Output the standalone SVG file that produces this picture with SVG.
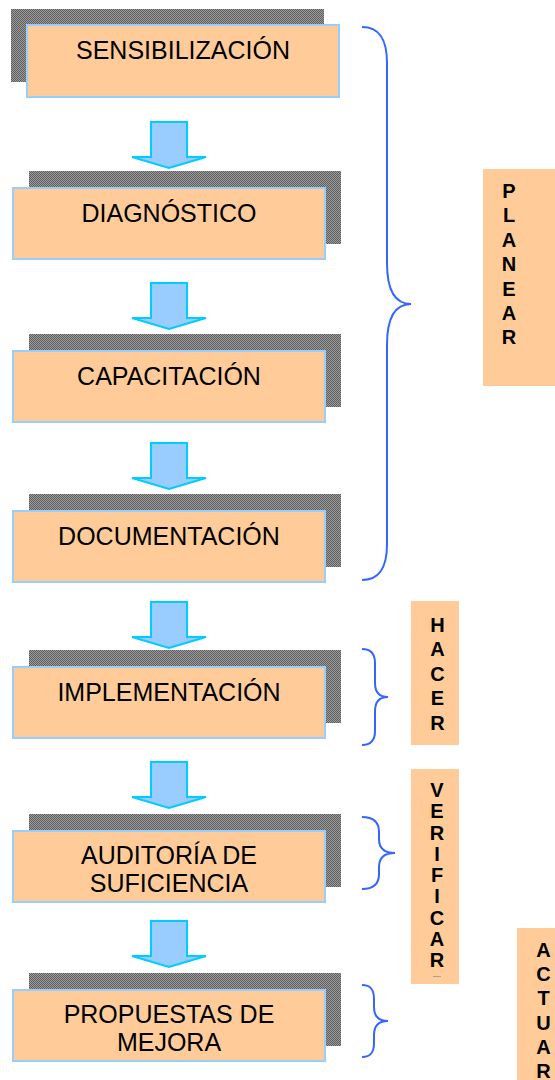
<svg xmlns="http://www.w3.org/2000/svg" width="555" height="1080" viewBox="0 0 555 1080">
<defs>
<pattern id="dither" width="2" height="2" patternUnits="userSpaceOnUse">
<rect width="2" height="2" fill="#9a9a9a"/>
<rect width="1" height="1" fill="#606060"/>
<rect x="1" y="1" width="1" height="1" fill="#606060"/>
</pattern>
</defs>
<style>
.shadow{fill:url(#dither)}
.box{fill:#ffcc99;stroke:#99ccff;stroke-width:2}
.t{font-family:"Liberation Sans",Arial,sans-serif;font-size:25px;fill:#000;text-anchor:middle}
.arrow{fill:#99ccff;stroke:#00ccff;stroke-width:2;stroke-linejoin:miter}
.brace{fill:none;stroke:#3366ff;stroke-width:2}
.lbl{fill:#ffcc99}
.l{font-family:"Liberation Sans",Arial,sans-serif;font-size:20px;font-weight:bold;fill:#000;text-anchor:middle}
</style>
<rect width="555" height="1080" fill="#ffffff"/>

<g id="n1">
<rect class="shadow" x="11" y="9" width="313" height="73"/>
<rect class="box" x="27" y="25" width="312" height="72"/>
<text class="t" x="183" y="59">SENSIBILIZACIÓN</text>
</g>
<g id="n2">
<rect class="shadow" x="29" y="171" width="312" height="73"/>
<rect class="box" x="13" y="188" width="312" height="71"/>
<text class="t" x="169" y="222">DIAGNÓSTICO</text>
</g>
<g id="n3">
<rect class="shadow" x="29" y="334" width="312" height="73"/>
<rect class="box" x="13" y="351" width="312" height="71"/>
<text class="t" x="169" y="385">CAPACITACIÓN</text>
</g>
<g id="n4">
<rect class="shadow" x="29" y="494" width="312" height="73"/>
<rect class="box" x="13" y="511" width="312" height="71"/>
<text class="t" x="169" y="545">DOCUMENTACIÓN</text>
</g>
<g id="n5">
<rect class="shadow" x="29" y="650" width="312" height="73"/>
<rect class="box" x="13" y="667" width="312" height="71"/>
<text class="t" x="169" y="701">IMPLEMENTACIÓN</text>
</g>
<g id="n6">
<rect class="shadow" x="29" y="814" width="312" height="73"/>
<rect class="box" x="13" y="831" width="312" height="71"/>
<text class="t" x="169" y="864">AUDITORÍA DE</text>
<text class="t" x="169" y="892">SUFICIENCIA</text>
</g>
<g id="n7">
<rect class="shadow" x="29" y="973" width="312" height="73"/>
<rect class="box" x="13" y="990" width="312" height="71"/>
<text class="t" x="169" y="1023">PROPUESTAS DE</text>
<text class="t" x="169" y="1051">MEJORA</text>
</g>

<g id="connectors">
<path class="arrow" d="M151,122 L187,122 L187,157 L206,157 L169,168 L132,157 L151,157 Z"/>
<path class="arrow" d="M151,283 L187,283 L187,318 L206,318 L169,329 L132,318 L151,318 Z"/>
<path class="arrow" d="M151,443 L187,443 L187,478 L206,478 L169,489 L132,478 L151,478 Z"/>
<path class="arrow" d="M151,602 L187,602 L187,637 L206,637 L169,648 L132,637 L151,637 Z"/>
<path class="arrow" d="M151,762 L187,762 L187,797 L206,797 L169,808 L132,797 L151,797 Z"/>
<path class="arrow" d="M151,921 L187,921 L187,956 L206,956 L169,967 L132,956 L151,956 Z"/>
</g>

<g id="braces">
<path class="brace" d="M362,27 C380,27 387,40 387,63 L387,263 C387,290 395,304 411,304 C395,304 387,318 387,345 L387,544 C387,567 380,580 362,580"/>
<path class="brace" d="M362,649 C371,649 375,654 375,663 L375,683 C375,692 379,697 388,697 C379,697 375,702 375,711 L375,731 C375,740 371,745 362,745"/>
<path class="brace" d="M362,817 C374,817 379,822 379,832 L379,839 C379,848 384,853 395,853 C384,853 379,858 379,867 L379,874 C379,884 374,889 362,889"/>
<path class="brace" d="M362,985 C371,985 374,990 374,999 L374,1007 C374,1016 378,1021 388,1021 C378,1021 374,1026 374,1035 L374,1043 C374,1052 371,1057 362,1057"/>
</g>

<g id="planear">
<rect class="lbl" x="483" y="169" width="72" height="217"/>
<text class="l" x="509" y="198">P</text>
<text class="l" x="509" y="222.4">L</text>
<text class="l" x="509" y="246.8">A</text>
<text class="l" x="509" y="271.2">N</text>
<text class="l" x="509" y="295.6">E</text>
<text class="l" x="509" y="320">A</text>
<text class="l" x="509" y="344.4">R</text>
</g>
<g id="hacer">
<rect class="lbl" x="411" y="601" width="48" height="144"/>
<text class="l" x="437.5" y="632">H</text>
<text class="l" x="437.5" y="656.4">A</text>
<text class="l" x="437.5" y="680.8">C</text>
<text class="l" x="437.5" y="705.2">E</text>
<text class="l" x="437.5" y="729.6">R</text>
</g>
<g id="verificar">
<rect class="lbl" x="411" y="769" width="48" height="215"/>
<text class="l" x="437" y="797">V</text>
<text class="l" x="437" y="818.2">E</text>
<text class="l" x="437" y="839.5">R</text>
<text class="l" x="437" y="860.7">I</text>
<text class="l" x="437" y="882">F</text>
<text class="l" x="437" y="903.2">I</text>
<text class="l" x="437" y="924.5">C</text>
<text class="l" x="437" y="945.7">A</text>
<text class="l" x="437" y="967">R</text>
<line x1="433" y1="976.5" x2="441" y2="976.5" stroke="#b0a090" stroke-width="1"/>
</g>
<g id="actuar">
<rect class="lbl" x="517" y="928" width="38" height="152"/>
<text class="l" x="543.5" y="957">A</text>
<text class="l" x="543.5" y="981.2">C</text>
<text class="l" x="543.5" y="1005.4">T</text>
<text class="l" x="543.5" y="1029.6">U</text>
<text class="l" x="543.5" y="1053.8">A</text>
<text class="l" x="543.5" y="1078">R</text>
</g>
</svg>
